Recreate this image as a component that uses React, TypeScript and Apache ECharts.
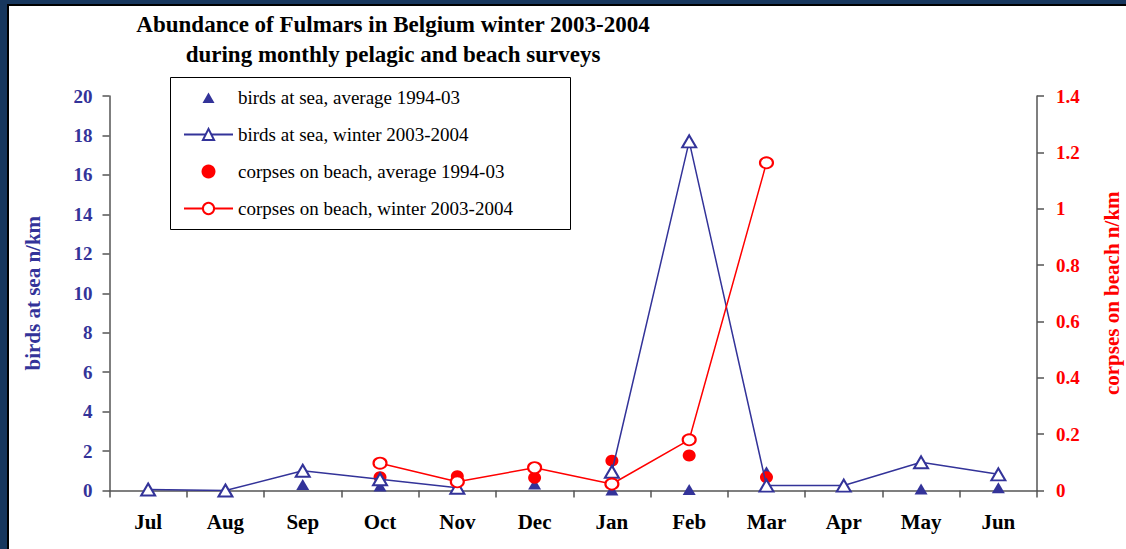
import { useEffect, useRef } from 'react';
import * as echarts from 'echarts';

const months = ['Jul', 'Aug', 'Sep', 'Oct', 'Nov', 'Dec', 'Jan', 'Feb', 'Mar', 'Apr', 'May', 'Jun'];
const birdsAvg = [null, null, 0.3, 0.23, null, 0.33, 0.02, 0.05, 0.95, null, 0.08, 0.14];
const birdsWinter = [0.05, 0, 1.0, 0.57, 0.14, null, 0.95, 17.7, 0.25, 0.25, 1.43, 0.82];
const corpsesAvg = [null, null, null, 0.047, 0.051, 0.045, 0.106, 0.124, 0.047, null, null, null];
const corpsesWinter = [null, null, null, 0.097, 0.031, 0.081, 0.023, 0.18, 1.163, null, null, null];

const titleText = 'Abundance of Fulmars in Belgium winter 2003-2004\nduring monthly pelagic and beach surveys';
const leftAxisName = 'birds at sea n/km';
const rightAxisName = 'corpses on beach n/km';
const names = [
  'birds at sea, average 1994-03',
  'birds at sea, winter 2003-2004',
  'corpses on beach, average 1994-03',
  'corpses on beach, winter 2003-2004',
];

const BLUE = '#333399';
const RED = '#ff0000';
const NAVY = '#17375e';
const FONT = '"Liberation Serif", "Times New Roman", serif';
const AXIS = '#555555';
const LEGEND_TRIANGLE = 'path://M0,0 M14,14 M1,12.5 L7,2 L13,12.5 Z';

export default function App() {
  const ref = useRef<HTMLDivElement>(null);
  useEffect(() => {
    const chart = echarts.init(ref.current!, null, { renderer: 'svg' });
    chart.setOption({
      animation: false,
      backgroundColor: '#ffffff',
      title: {
        text: titleText,
        left: 388,
        top: 4,
        textAlign: 'center',
        textStyle: { fontFamily: FONT, fontSize: 23, fontWeight: 'bold', color: '#000', lineHeight: 30 },
      },
      graphic: [
        { type: 'rect', shape: { x: 0, y: 0, width: 1126, height: 4 }, style: { fill: NAVY } },
        { type: 'rect', shape: { x: 0, y: 4, width: 1126, height: 2 }, style: { fill: '#000' } },
        { type: 'rect', shape: { x: 0, y: 0, width: 7, height: 549 }, style: { fill: NAVY } },
        { type: 'rect', shape: { x: 7, y: 4, width: 2, height: 545 }, style: { fill: '#000' } },
        {
          type: 'rect',
          shape: { x: 170.5, y: 77.5, width: 400, height: 152 },
          style: { fill: 'none', stroke: '#000', lineWidth: 1 },
        },
      ],
      legend: {
        orient: 'vertical',
        left: 178,
        top: 83,
        itemWidth: 49,
        itemHeight: 14,
        itemGap: 18,
        symbolKeepAspect: true,
        data: [
          { name: names[0], icon: LEGEND_TRIANGLE },
          { name: names[1] },
          { name: names[2] },
          { name: names[3] },
        ],
        textStyle: { fontFamily: FONT, fontSize: 19, color: '#000' },
      },
      grid: { left: 109.5, right: 89, top: 96, bottom: 58.5, outerBoundsMode: 'none' },
      xAxis: {
        type: 'category',
        data: months,
        boundaryGap: true,
        axisLine: { show: true, lineStyle: { color: AXIS, width: 1.5 } },
        axisTick: { show: true, length: 7, alignWithLabel: false, lineStyle: { color: AXIS, width: 1.5 } },
        axisLabel: { margin: 21, color: '#000', fontFamily: FONT, fontSize: 21, fontWeight: 'bold' },
        splitLine: { show: false },
      },
      yAxis: [
        {
          type: 'value',
          min: 0,
          max: 20,
          interval: 2,
          name: leftAxisName,
          nameLocation: 'middle',
          nameGap: 66,
          nameTextStyle: { fontFamily: FONT, fontSize: 21, fontWeight: 'bold', color: BLUE },
          axisLine: { show: true, lineStyle: { color: AXIS, width: 1.5 } },
          axisTick: { show: true, length: 7, lineStyle: { color: AXIS, width: 1.5 } },
          axisLabel: { margin: 17, color: BLUE, fontFamily: FONT, fontSize: 19, fontWeight: 'bold' },
          splitLine: { show: false },
        },
        {
          type: 'value',
          min: 0,
          max: 1.4,
          interval: 0.2,
          position: 'right',
          name: rightAxisName,
          nameLocation: 'middle',
          nameGap: 64,
          nameTextStyle: { fontFamily: FONT, fontSize: 21, fontWeight: 'bold', color: RED },
          axisLine: { show: true, lineStyle: { color: AXIS, width: 1.5 } },
          axisTick: { show: true, length: 7, lineStyle: { color: AXIS, width: 1.5 } },
          axisLabel: {
            margin: 19,
            color: RED,
            fontFamily: FONT,
            fontSize: 19,
            fontWeight: 'bold',
            formatter: (v: number) => String(Math.round(v * 10) / 10),
          },
          splitLine: { show: false },
        },
      ],
      series: [
        {
          name: names[0],
          type: 'scatter',
          yAxisIndex: 0,
          data: birdsAvg,
          symbol: 'triangle',
          symbolSize: [13, 11],
          itemStyle: { color: BLUE, opacity: 1 },
        },
        {
          name: names[1],
          type: 'line',
          yAxisIndex: 0,
          data: birdsWinter,
          symbol: 'emptyTriangle',
          symbolSize: [14, 12],
          showAllSymbol: true,
          connectNulls: false,
          lineStyle: { color: BLUE, width: 1.5 },
          itemStyle: { color: BLUE, borderColor: BLUE, borderWidth: 1.5 },
        },
        {
          name: names[2],
          type: 'scatter',
          yAxisIndex: 1,
          data: corpsesAvg,
          symbol: 'circle',
          symbolSize: [13, 12],
          itemStyle: { color: RED, opacity: 1 },
        },
        {
          name: names[3],
          type: 'line',
          yAxisIndex: 1,
          data: corpsesWinter,
          symbol: 'emptyCircle',
          symbolSize: [13, 11],
          showAllSymbol: true,
          connectNulls: false,
          lineStyle: { color: RED, width: 1.5 },
          itemStyle: { color: RED, borderColor: RED, borderWidth: 1.5 },
        },
      ],
    });
    return () => chart.dispose();
  }, []);
  return (
    <div
      ref={ref}
      style={{ position: 'absolute', left: 0, top: 0, width: 1126, height: 549, background: '#fff' }}
    />
  );
}
